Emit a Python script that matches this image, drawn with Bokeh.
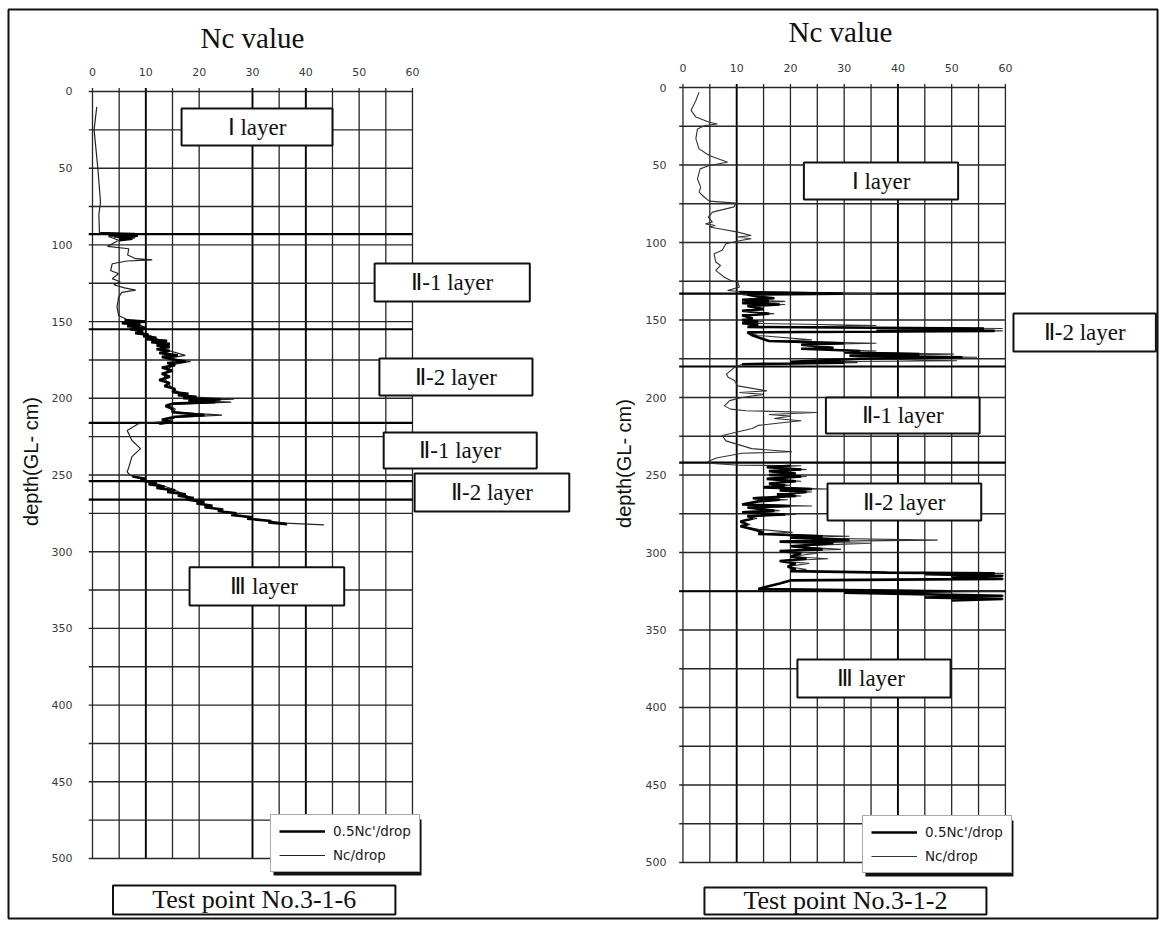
import numpy as np
from bokeh.plotting import figure
from bokeh.models import Range1d, Legend, LegendItem
from bokeh.core.properties import value
from bokeh.embed import file_html
from bokeh.resources import INLINE

NAN = float("nan")

# ---------------- data : Test point No.3-1-6 (left) ----------------
L_nc_depth = [10, 25, 50, 72, 80, 92, 93, 94.5, 97, 101, 102.5, 106.6, 109, 109.7, 110.5,
              112.3, 116.7, 118.8, 122, 124, 126, 128, 129.5, 131, 134, 140.6, 146, 149.3,
              151, 153, 156, 160, 164, 168, 172, 174, 176, 178, 182, 186, 190, 195, 199,
              200.5, 201.5, 202.5, 204, 207, 209, 211, 212.5, 215, 216.6, 221, 227.5, 232.8,
              238, 245, 248, 250.3, 251.4, 254.7, 259, 263, 267.7, 273, 278.6, 281.4, 282.5]
L_nc_val = [0.8, 0.3, 1.0, 1.5, 1.2, 1.3, 7.5, 3.0, 4.9, 2.8, 6.8, 6.6, 8.1, 11.2, 6.5,
            3.7, 3.4, 4.9, 3.7, 5.2, 4.0, 6.0, 8.1, 5.5, 4.9, 4.6, 4.9, 6.8,
            5.8, 9.5, 8.5, 11.5, 13.5, 13.5, 17.4, 14.0, 18.4, 15.0, 14.0, 13.5, 14.0, 15.5, 18.0,
            26.5, 18.0, 26.0, 14.0, 15.5, 15.3, 24.3, 15.5, 14.0, 8.6, 6.5, 7.4, 9.0,
            7.4, 6.8, 6.5, 7.1, 8.1, 11.2, 14.9, 17.4, 19.9, 23.7, 30.0, 36.2, 43.4]

L_half_depth_a = [92.5, 93, 93.5, 94, 94.5, 95, 95.5, 96, 97]
L_half_val_a = [1.5, 8.0, 3.0, 8.5, 4.0, 8.0, 5.0, 7.5, 5.0]
L_half_depth_b = [149, 150, 151, 152, 153, 154, 155, 156, 157.5, 158.5, 159.5, 160.5, 161.5,
                  162.5, 163.5, 164.5, 165.5, 166.5, 168, 169, 170.5, 172, 173, 174.5, 176,
                  177, 178.5, 180, 182, 184, 186, 188, 190, 192, 194, 196, 197, 198, 199, 200,
                  200.8, 201.6, 202.5, 203.5, 205, 207, 209, 211, 212, 214, 215.5, 216.5]
L_half_val_b = [6.0, 10.0, 5.5, 9.0, 6.5, 10.0, 7.0, 9.5, 8.0, 10.5, 9.5, 12.0, 10.0,
                14.0, 11.0, 14.5, 12.0, 14.5, 12.0, 14.5, 12.5, 16.0, 13.0, 15.0, 17.5,
                14.0, 15.5, 13.0, 15.0, 13.0, 14.5, 12.5, 14.5, 13.5, 15.5, 15.0, 18.0, 16.0, 19.5, 17.0,
                24.0, 18.0, 23.0, 15.0, 13.7, 15.0, 15.0, 21.0, 15.5, 13.0, 15.0, 12.5]
L_half_depth_c = [251, 252.5, 253.5, 255, 256, 257.5, 258.5, 260, 261, 262.5, 263.5, 265, 266,
                  267.5, 268.5, 270, 271, 272.5, 273.5, 275, 276, 277.5, 278.5, 280, 281, 282]
L_half_val_c = [7.5, 10.0, 9.0, 12.0, 10.5, 13.5, 12.0, 15.5, 14.0, 17.5, 16.0, 19.0, 17.5,
                21.0, 19.5, 22.5, 21.0, 24.5, 23.5, 27.0, 26.0, 30.0, 29.0, 33.5, 33.0, 36.5]

# ---------------- data : Test point No.3-1-2 (right) ----------------
R_nc_depth_soft1 = [3, 8.4, 14.8, 19, 22.4, 23.5, 24.5, 26.7, 33, 39.6, 43.9, 48.2, 50.3, 52.5,
                    59, 64.3, 67.5, 70.8, 73.3, 74.6, 77, 80.4, 83.6, 86.8, 88, 89, 90, 91.5,
                    93.3, 95.5, 96.5, 97.6, 98.7, 100.8, 105, 107.3, 112.6, 114.8, 118, 122.4,
                    124.5, 125.6, 128.8, 131, 131.6]
R_nc_val_soft1 = [3.0, 2.4, 1.5, 2.4, 4.9, 6.4, 4.1, 2.7, 2.4, 3.0, 4.9, 8.3, 4.9, 3.2,
                  2.7, 3.3, 3.0, 4.0, 4.9, 9.9, 9.5, 5.5, 4.7, 5.5, 4.2, 6.0, 4.9, 7.3,
                  10.2, 12.7, 10.2, 12.7, 10.7, 8.0, 7.3, 5.8, 6.1, 7.0, 6.1, 7.7,
                  8.9, 10.2, 10.5, 8.3, 10.5]
R_nc_depth_hard1 = [133, 133.6, 136, 137, 138, 139.5, 140, 141, 143, 144, 146, 147, 149, 150,
                    151, 152, 153.5, 154.5, 155.5, 156.5, 157, 158, 160, 162.8, 163.5, 165, 166,
                    168, 168.5, 170, 171, 172, 173, 174, 175, 176.3, 177, 177.5, 178.5]
R_nc_val_hard1 = [36.0, 11.0, 17.0, 11.0, 19.0, 11.0, 19.0, 12.0, 15.0, 11.0, 17.0, 11.0, 13.0, 11.0,
                  15.0, 11.0, 36.0, 20.0, 59.5, 40.0, 59.5, 12.0, 14.0, 24.0, 17.0, 36.0, 22.0,
                  28.0, 22.0, 36.0, 32.0, 50.4, 31.0, 54.7, 34.0, 51.0, 20.0, 32.5, 11.0]
R_nc_depth_soft2 = [180.6, 184.9, 187, 189, 192.5, 195.7, 196.8, 198, 200, 202, 205.4, 207.5,
                    208.5, 209.7, 211, 212, 213.5, 215, 216.5, 218, 220, 224.5, 228, 233, 235,
                    236, 239, 241.5, 242.6]
R_nc_val_soft2 = [9.6, 8.1, 8.4, 9.6, 10.2, 15.6, 10.5, 15.0, 11.0, 8.7, 7.7, 8.9,
                  11.7, 24.9, 16.0, 20.0, 17.0, 22.0, 18.0, 14.0, 12.9, 7.3, 8.0, 12.8, 20.3,
                  11.0, 6.2, 4.6, 5.5]
R_nc_depth_hard2 = [243.7, 244, 245, 246.5, 247.5, 249, 250, 251, 252.5, 254, 255.5, 256.6, 258,
                    259, 260, 261, 262.5, 263.5, 265, 266, 267, 269, 270, 271, 273, 274, 275.5,
                    276.5, 278, 280, 282, 283, 285, 287, 288, 289.5, 290.5, 292, 293, 294, 296,
                    298, 299, 300.5, 302.6, 304, 305.5, 307, 309, 311, 312, 313, 313.5, 314, 315,
                    316, 317, 318, 320, 323.5, 325, 326, 328, 329, 330, 331]
R_nc_val_hard2 = [10.5, 22.0, 15.6, 23.0, 16.0, 21.0, 16.0, 23.0, 15.6, 22.0, 16.0, 20.0, 15.0,
                  27.3, 18.0, 24.0, 17.5, 22.0, 13.0, 19.5, 14.0, 11.0, 24.0, 12.0, 18.0, 11.0, 21.0,
                  12.0, 13.8, 10.7, 12.5, 10.7, 14.0, 20.4, 14.0, 31.0, 20.0, 47.4, 18.0, 35.0, 20.0,
                  29.4, 18.0, 25.0, 20.0, 27.0, 18.0, 23.5, 19.5, 23.0, 20.0, 41.0, 59.7, 45.0, 59.7,
                  50.0, 59.7, 20.0, 18.0, 14.0, 59.7, 30.0, 59.7, 45.0, 59.7, 50.0]

R_half_depth_a = [132, 133, 133.6, 135, 136, 137, 138, 139, 140, 141, 143, 144, 146, 147, 149,
                  150, 151, 152, 153, 154.5, 155.5, 156.5, 157, 158, 160, 163.5, 165, 166, 168,
                  168.5, 170, 171, 172, 173, 174, 175, 177, 177.5, 178.5]
R_half_val_a = [10.5, 29.7, 12.0, 14.0, 17.0, 11.0, 16.0, 11.0, 18.0, 12.0, 15.0, 11.0, 16.0, 11.0, 13.0,
                11.0, 14.0, 11.0, 14.0, 12.0, 56.0, 36.0, 58.0, 12.0, 13.0, 16.0, 30.0, 22.0, 28.0,
                22.0, 33.0, 30.0, 44.0, 31.0, 52.0, 33.0, 20.0, 30.0, 11.0]
R_half_depth_b = [244, 245, 246.5, 247.5, 249, 250, 251, 252.5, 254, 255.5, 256.6, 258, 259,
                  260, 261, 262.5, 263.5, 265, 266, 267, 269, 270, 271, 273, 274, 275.5, 276.5,
                  278, 280, 282, 283, 285, 287, 288, 289.5, 290.5, 292, 293, 294, 296, 298, 299,
                  300.5, 302.6, 304, 305.5, 307, 309, 311, 312, 313, 313.5, 314, 315, 316, 317,
                  318, 320, 323.5, 325, 326, 328, 329, 330, 331]
R_half_val_b = [20.0, 15.6, 22.0, 16.0, 21.0, 16.0, 22.0, 15.6, 21.0, 16.0, 19.0, 15.0, 24.0,
                18.0, 23.0, 17.5, 21.0, 13.0, 18.0, 14.0, 11.0, 20.0, 12.0, 17.0, 11.0, 19.0, 12.0,
                13.0, 10.7, 12.0, 10.7, 13.0, 15.0, 14.0, 26.0, 20.0, 31.0, 18.0, 28.0, 20.0, 26.0, 18.0,
                22.0, 20.0, 23.0, 18.0, 21.0, 19.5, 21.0, 20.0, 38.0, 58.0, 45.0, 59.5, 50.0, 59.5,
                20.0, 18.0, 14.0, 50.0, 30.0, 59.5, 45.0, 59.5, 50.0]

# ---------------- axes / grid definitions ----------------
x_tick_values = [0, 10, 20, 30, 40, 50, 60]
y_tick_values = [0, 50, 100, 150, 200, 250, 300, 350, 400, 450, 500]
L_grid_x = [0, 5, 10, 15, 20, 30, 35, 40, 45, 50, 55, 60]
R_grid_x = [0, 5, 10, 15, 20, 25, 30, 35, 40, 45, 50, 55, 60]
L_heavy_x = [10, 30, 40]
R_heavy_x = [10, 40]
grid_depths = list(range(0, 525, 25))
L_boundaries = [93, 155, 216, 254, 266]
R_boundaries = [133, 180, 242, 325]

# layer label boxes (in each panel's data units)
L_layer_text = ["Ⅰ layer", "Ⅱ-1 layer", "Ⅱ-2 layer", "Ⅱ-1 layer", "Ⅱ-2 layer", "Ⅲ  layer"]
L_box_l = [16.7, 52.9, 53.8, 54.6, 60.4, 18.2]
L_box_r = [45.0, 82.0, 82.5, 83.3, 89.4, 47.2]
L_box_t = [11.1, 112.1, 174.1, 222.3, 249.0, 310.1]
L_box_b = [35.2, 136.9, 198.2, 245.8, 273.8, 335.1]
R_layer_text = ["Ⅰ layer", "Ⅱ-2 layer", "Ⅱ-1 layer", "Ⅱ-2 layer", "Ⅲ  layer"]
R_box_l = [22.5, 61.5, 26.6, 26.9, 21.3]
R_box_r = [51.2, 88.0, 55.2, 55.5, 49.8]
R_box_t = [48.4, 145.8, 200.0, 255.5, 369.0]
R_box_b = [72.3, 170.3, 223.2, 279.4, 393.5]

# ---------------- figure ----------------
W, H = 1159, 920
p = figure(width=W, height=H, output_backend="svg", toolbar_location=None,
           x_range=Range1d(-17.25, 200.07), y_range=Range1d(540.42, -59.32),
           x_axis_location=None, y_axis_location=None, min_border=0,
           background_fill_color="white", border_fill_color="white")
p.extra_x_ranges = {"R": Range1d(-126.98, 88.67)}
p.extra_y_ranges = {"R": Range1d(537.42, -56.13)}
p.grid.visible = False
p.outline_line_color = None

GRID = "#262626"
SANS = value("DejaVu Sans")
SERIF = value("Liberation Serif")
RR = dict(x_range_name="R", y_range_name="R")

# outer border of the sheet
p.quad(left=[-15.75], right=[199.7], top=[-53.45], bottom=[539.1], fill_color=None,
       line_color="#111111", line_width=2)


def panel(grid_x, heavy_x, bounds, kw):
    light = [g for g in grid_x if g not in heavy_x]
    p.segment(x0=light, x1=light, y0=[-2.2] * len(light), y1=[500] * len(light),
              line_color=GRID, line_width=1.3, **kw)
    p.segment(x0=heavy_x, x1=heavy_x, y0=[-2.2] * len(heavy_x), y1=[500] * len(heavy_x),
              line_color="#000000", line_width=1.9, **kw)
    p.segment(x0=[-0.7] * len(grid_depths), x1=[60] * len(grid_depths), y0=grid_depths, y1=grid_depths,
              line_color=GRID, line_width=1.4, **kw)
    p.segment(x0=[-0.7] * len(bounds), x1=[60] * len(bounds), y0=bounds, y1=bounds,
              line_color="#000000", line_width=2.2, **kw)


panel(L_grid_x, L_heavy_x, L_boundaries, {})
panel(R_grid_x, R_heavy_x, R_boundaries, RR)

# tick labels
tick_style = dict(text_font=SANS, text_font_size="11px", text_color="#3a3a3a", text_baseline="middle")
p.text(x=x_tick_values, y=[-12.4] * 7, text=[str(v) for v in x_tick_values],
       text_align="center", **tick_style)
p.text(x=[-3.75] * len(y_tick_values), y=y_tick_values, text=[str(v) for v in y_tick_values],
       text_align="right", **tick_style)
p.text(x=x_tick_values, y=[-12.3] * 7, text=[str(v) for v in x_tick_values],
       text_align="center", **tick_style, **RR)
p.text(x=[-3.07] * len(y_tick_values), y=y_tick_values, text=[str(v) for v in y_tick_values],
       text_align="right", **tick_style, **RR)

# axis titles
p.text(x=[30.0], y=[-35.2], text=["Nc value"], text_font=SERIF, text_font_size="29px",
       text_color="#111111", text_align="center", text_baseline="middle")
p.text(x=[29.3], y=[-36.1], text=["Nc value"], text_font=SERIF, text_font_size="29px",
       text_color="#111111", text_align="center", text_baseline="middle", **RR)
p.text(x=[-11.44], y=[241.2], text=["depth(GL- cm)"], angle=np.pi / 2,
       text_font=value("Liberation Sans"), text_font_size="20px", text_color="#111111",
       text_align="center", text_baseline="middle")
p.text(x=[-10.88], y=[242.6], text=["depth(GL- cm)"], angle=np.pi / 2,
       text_font=value("Liberation Sans"), text_font_size="20px", text_color="#111111",
       text_align="center", text_baseline="middle", **RR)

# ---------------- curves ----------------
L_half_depth = L_half_depth_a + [NAN] + L_half_depth_b + [NAN] + L_half_depth_c
L_half_val = L_half_val_a + [NAN] + L_half_val_b + [NAN] + L_half_val_c
R_nc_depth = R_nc_depth_soft1 + R_nc_depth_hard1 + R_nc_depth_soft2 + R_nc_depth_hard2
R_nc_val = R_nc_val_soft1 + R_nc_val_hard1 + R_nc_val_soft2 + R_nc_val_hard2
R_half_depth = R_half_depth_a + [NAN] + R_half_depth_b
R_half_val = R_half_val_a + [NAN] + R_half_val_b

rL_nc = p.line(L_nc_val, L_nc_depth, line_color="#222222", line_width=1.2)
rL_half = p.line(L_half_val, L_half_depth, line_color="#000000", line_width=2.6)
rR_nc = p.line(R_nc_val, R_nc_depth, line_color="#333333", line_width=1.1, **RR)
rR_half = p.line(R_half_val, R_half_depth, line_color="#000000", line_width=2.6, **RR)


# ---------------- layer boxes ----------------
def boxes(l, r, t, b, texts, size, kw):
    p.quad(left=l, right=r, top=t, bottom=b, fill_color="white", line_color="#111111",
           line_width=2, **kw)
    cx = [(a + c) / 2 for a, c in zip(l, r)]
    cy = [(a + c) / 2 for a, c in zip(t, b)]
    p.text(x=cx, y=cy, text=texts, text_font=SERIF, text_font_size=size, text_color="#111111",
           text_align="center", text_baseline="middle", **kw)


boxes(L_box_l, L_box_r, L_box_t, L_box_b, L_layer_text, "23px", {})
boxes(R_box_l, R_box_r, R_box_t, R_box_b, R_layer_text, "23px", RR)
boxes([3.84], [56.8], [517.6], [536.5], ["Test point No.3-1-6"], "26px", {})
boxes([4.0], [56.47], [516.1], [533.5], ["Test point No.3-1-2"], "26px", RR)

# legend drop shadows
p.quad(left=[33.94], right=[61.7], top=[474.6], bottom=[511.1], fill_color="#111111", line_color=None)
p.quad(left=[33.95], right=[61.5], top=[472.9], bottom=[509.0], fill_color="#111111", line_color=None, **RR)


def make_legend(items, loc):
    lg = Legend(items=items, location=loc, orientation="vertical",
                border_line_color="#555555", border_line_width=1,
                background_fill_color="white", background_fill_alpha=1.0,
                label_text_font="DejaVu Sans", label_text_font_size="13.5px",
                label_text_color="#222222",
                glyph_width=46, glyph_height=12, label_height=12, spacing=8,
                padding=8, label_standoff=8, margin=0)
    p.add_layout(lg)


make_legend([LegendItem(label="0.5Nc'/drop", renderers=[rL_half]),
             LegendItem(label="Nc/drop", renderers=[rL_nc])], (270, 48))
make_legend([LegendItem(label="0.5Nc'/drop", renderers=[rR_half]),
             LegendItem(label="Nc/drop", renderers=[rR_nc])], (862, 47))

open("out.html", "w").write(file_html(p, INLINE))
